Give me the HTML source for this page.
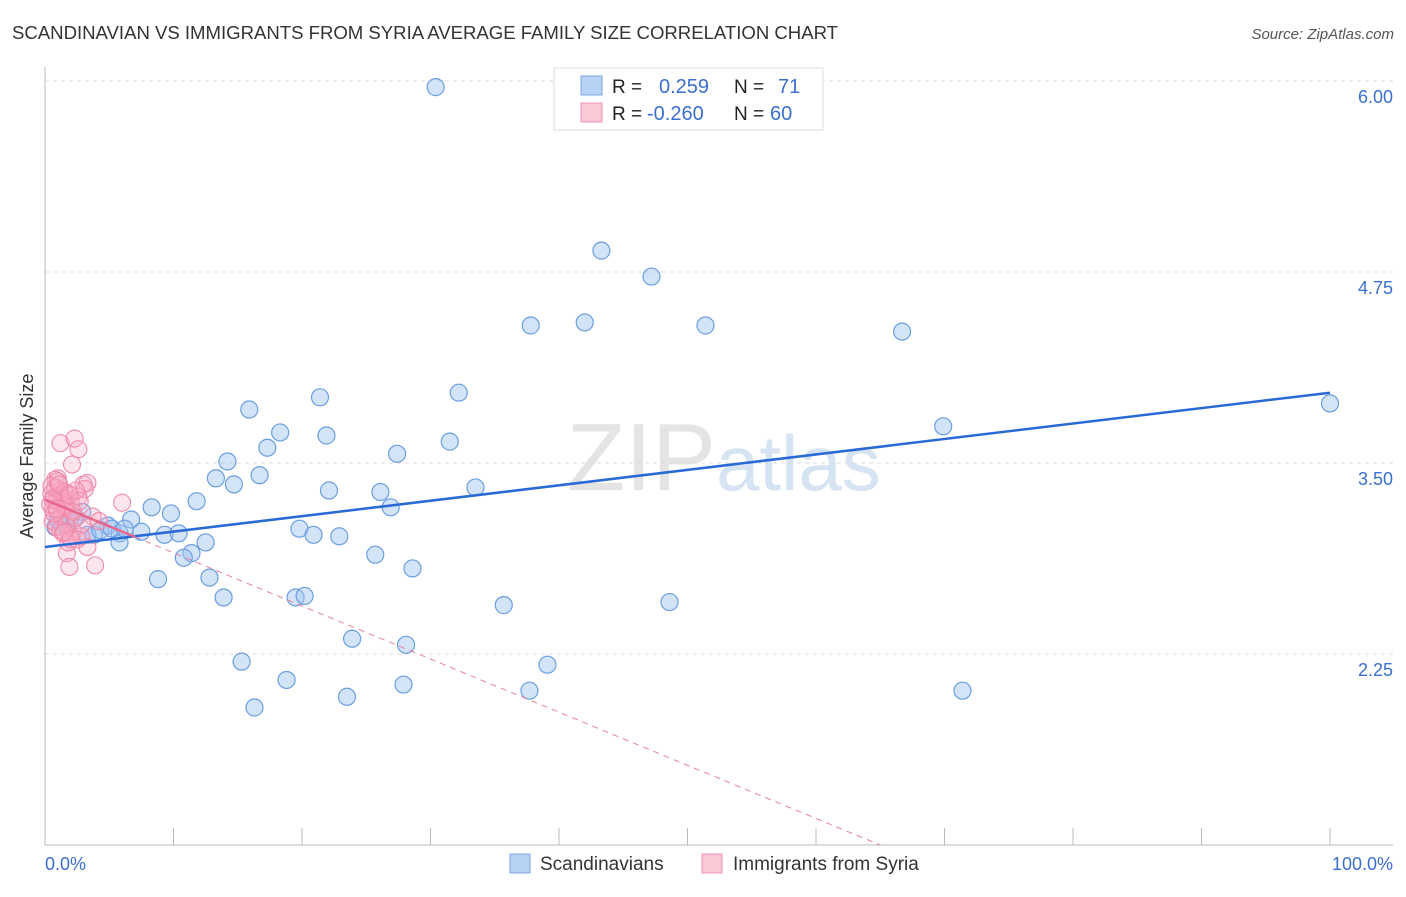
<!DOCTYPE html>
<html><head><meta charset="utf-8"><style>
body{margin:0;background:#fff;font-family:"Liberation Sans",sans-serif;}
svg text{font-family:"Liberation Sans",sans-serif;}
</style></head><body>
<svg id="c" width="1406" height="892" xmlns="http://www.w3.org/2000/svg">
<text x="12" y="39" font-size="18.6" fill="#333" textLength="826">SCANDINAVIAN VS IMMIGRANTS FROM SYRIA AVERAGE FAMILY SIZE CORRELATION CHART</text>
<text x="1394" y="39" font-size="15" fill="#555" font-style="italic" text-anchor="end">Source: ZipAtlas.com</text>
<text x="716" y="490" font-size="96" fill="#e4e4e4" font-family="Liberation Serif" text-anchor="end">ZIP</text>
<text x="716" y="490" font-size="78" fill="#d6e3f3">atlas</text>
<g id="grid"></g><g id="axes"></g><g id="pts"></g><g id="lines"></g>
<text x="33" y="456" font-size="18" fill="#333" transform="rotate(-90 33 456)" text-anchor="middle">Average Family Size</text>
<text x="45" y="870" font-size="18" fill="#3b6fd0">0.0%</text>
<text x="1393" y="870" font-size="18" fill="#3b6fd0" text-anchor="end">100.0%</text>
<g>
<rect x="554" y="68" width="269" height="62" fill="#fff" stroke="#ddd"/>
<rect x="581" y="76" width="21" height="19" fill="#b8d2f5" stroke="#7da6e0"/>
<rect x="581" y="103" width="21" height="19" fill="#fbc8d6" stroke="#ee95b0"/>
<text font-size="19" fill="#222"><tspan x="612" y="93">R =</tspan><tspan x="612" y="120">R =</tspan><tspan x="734" y="93">N =</tspan><tspan x="734" y="120">N =</tspan></text>
<text font-size="20" fill="#3b6fd0"><tspan x="659" y="93">0.259</tspan><tspan x="647" y="120">-0.260</tspan><tspan x="778" y="93">71</tspan><tspan x="770" y="120">60</tspan></text>
</g>
<g>
<rect x="510" y="854" width="20" height="19" fill="#b8d2f5" stroke="#7da6e0"/>
<text x="540" y="870" font-size="19" fill="#333">Scandinavians</text>
<rect x="702" y="854" width="20" height="19" fill="#fbc8d6" stroke="#ee95b0"/>
<text x="733" y="870" font-size="19" fill="#333">Immigrants from Syria</text>
</g>
</svg>
<script>
const yTicks=[2.25,3.5,4.75,6.0];
const yTickLabels=["2.25","3.50","4.75","6.00"];
const blueX=[30.4,43.3,47.2,37.8,42.0,51.4,66.7,100,69.9,21.4,15.9,32.2,18.3,21.9,17.3,31.5,27.4,14.2,16.7,13.3,14.7,22.1,26.1,33.5,11.8,26.9,8.3,9.8,2.9,6.7,0.8,1.9,3.8,4.9,5.8,7.5,9.3,10.4,12.5,19.8,20.9,22.9,25.7,11.4,10.8,28.6,8.8,12.8,13.9,19.5,20.2,35.7,48.6,23.9,28.1,15.3,39.1,18.8,27.9,37.7,71.4,23.5,16.3,5.8,3.3,1.6,4.3,5.2,1.0,2.3,6.2];
const blueY=[5.96,4.89,4.72,4.40,4.42,4.40,4.36,3.89,3.74,3.93,3.85,3.96,3.70,3.68,3.60,3.64,3.56,3.51,3.42,3.40,3.36,3.32,3.31,3.34,3.25,3.21,3.21,3.17,3.18,3.13,3.08,3.11,3.03,3.09,3.04,3.05,3.03,3.04,2.98,3.07,3.03,3.02,2.90,2.91,2.88,2.81,2.74,2.75,2.62,2.62,2.63,2.57,2.59,2.35,2.31,2.20,2.18,2.08,2.05,2.01,2.01,1.97,1.90,2.98,3.03,3.09,3.06,3.07,3.13,3.14,3.07];
const pinkX=[1.2,2.3,2.6,2.1,0.8,1.0,3.0,3.3,6.0,1.7,1.9,3.9,3.3,1.9,3.7,0.5,0.7,0.9,1.1,1.3,1.5,0.6,0.8,1.0,1.2,1.4,1.6,1.8,2.0,0.4,0.6,0.9,1.3,1.7,2.2,2.5,2.8,0.5,1.0,1.5,2.0,2.4,0.7,1.2,1.8,2.6,3.1,1.4,2.0,2.9,0.6,1.1,1.6,2.2,4.2,2.7,1.5,0.9,1.9,2.4];
const pinkY=[3.63,3.66,3.59,3.49,3.39,3.40,3.36,3.37,3.24,2.91,2.82,2.83,2.95,3.02,3.15,3.30,3.28,3.25,3.32,3.22,3.27,3.20,3.34,3.18,3.29,3.24,3.21,3.30,3.26,3.23,3.12,3.08,3.15,3.10,3.05,3.00,3.02,3.35,3.38,3.31,3.19,3.14,3.17,3.06,2.98,3.28,3.33,3.04,3.00,3.10,3.26,3.36,3.22,3.18,3.12,3.25,3.05,3.20,3.29,3.32];
const blueFit=[2.95,3.96], pinkFit=[3.26,1.0], pinkFitEndX=65;
const X=v=>45+v*12.85, Y=v=>463-(v-3.5)*152.8;
const NS="http://www.w3.org/2000/svg";
function mk(t,a,p){const e=document.createElementNS(NS,t);for(const k in a)e.setAttribute(k,a[k]);document.getElementById(p).appendChild(e);return e;}
yTicks.forEach((t,i)=>{
 const l=mk('line',{x1:45,x2:1393,y1:Y(t),y2:Y(t),stroke:'#ddd','stroke-dasharray':'4 4'},'grid');
 
 
 const tx=mk('text',{x:1393,y:Y(t)+22,'font-size':18,fill:'#3b6fd0','text-anchor':'end'},'grid');tx.textContent=yTickLabels[i];
 
 
});
mk('line',{x1:45,x2:45,y1:67,y2:845,stroke:'#bbb'},'axes');
mk('line',{x1:45,x2:1393,y1:845,y2:845,stroke:'#bbb'},'axes');
for(let i=1;i<=10;i++){const l=mk('line',{x1:X(i*10),x2:X(i*10),y1:828,y2:845,stroke:'#bbb'},'axes');
 
 }
blueX.forEach((x,i)=>{const c=mk('circle',{cx:X(x),cy:Y(blueY[i]),r:8.5,fill:'rgba(160,196,240,0.45)',stroke:'#6a9ee0','stroke-width':1.2},'pts');
 
 });
pinkX.forEach((x,i)=>{const c=mk('circle',{cx:X(x),cy:Y(pinkY[i]),r:8.5,fill:'rgba(248,170,195,0.3)',stroke:'#f08aaa','stroke-width':1.1},'pts');
 
 });
const bl=mk('line',{x1:X(0),y1:Y(blueFit[0]),x2:X(100),y2:Y(blueFit[1]),stroke:'#2a6ad6','stroke-width':2.5},'lines');


const slope=(pinkFit[1]-pinkFit[0])/pinkFitEndX;
const p1=mk('line',{x1:X(0),y1:Y(pinkFit[0]),x2:X(7),y2:Y(pinkFit[0]+slope*7),stroke:'#e8668e','stroke-width':2.5},'lines');


const p2=mk('line',{x1:X(7),y1:Y(pinkFit[0]+slope*7),x2:X(pinkFitEndX),y2:Y(pinkFit[1]),stroke:'#e8809f','stroke-width':1,'stroke-dasharray':'6 5'},'lines');


</script>
</body></html>
